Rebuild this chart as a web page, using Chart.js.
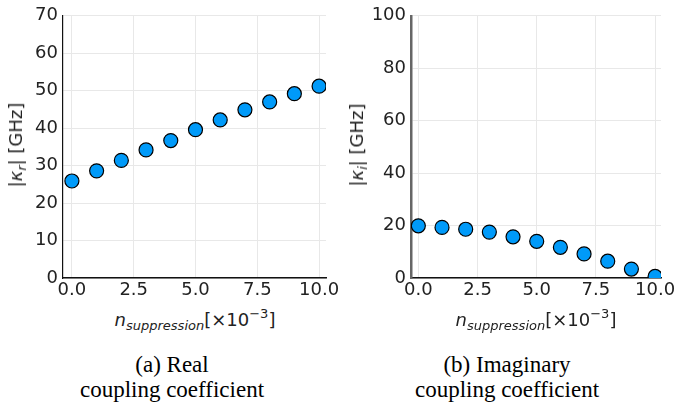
<!DOCTYPE html>
<html>
<head>
<meta charset="utf-8">
<script src="https://cdn.jsdelivr.net/npm/chart.js@4/dist/chart.umd.min.js"></script>
<style>
  html, body { margin:0; padding:0; width:674px; height:409px; overflow:hidden; background:#fff; }
  .wrap { position:absolute; top:0; height:300px; }
  #w1 { left:0; width:345px; }
  #w2 { left:340px; width:360px; }
  .ytitle { position:absolute; font-family:"DejaVu Sans"; font-size:18px; color:#222; white-space:nowrap;
            transform:translate(-50%,-50%) rotate(-90deg); }
  .xtitle { position:absolute; font-family:"DejaVu Sans"; font-size:18px; color:#222; white-space:nowrap;
            transform:translateX(-50%); }
  .xtitle sub { font-size:13px; font-style:italic; vertical-align:-4px; }
  .xtitle sup { font-size:13px; vertical-align:8px; }
  .ytitle sub { font-size:13px; font-style:italic; vertical-align:-4px; }
  .caption { position:absolute; font-family:"Liberation Serif"; font-size:23px; line-height:25px; color:#000;
             text-align:center; white-space:nowrap; transform:translateX(-50%); }
</style>
</head>
<body>
<div class="wrap" id="w1"><canvas id="c1" width="345" height="300"></canvas></div>
<div class="wrap" id="w2"><canvas id="c2" width="360" height="300"></canvas></div>

<div class="ytitle" style="left:17px; top:145px;">|<i>κ</i><sub>r</sub>| [GHz]</div>
<div class="ytitle" style="left:358px; top:145px;">|<i>κ</i><sub>i</sub>| [GHz]</div>
<div class="xtitle" style="left:195px; top:306px;"><i>n</i><sub>suppression</sub>[×10<sup>−3</sup>]</div>
<div class="xtitle" style="left:536px; top:306px;"><i>n</i><sub>suppression</sub>[×10<sup>−3</sup>]</div>
<div class="caption" style="left:172px; top:352px;">(a) Real<br>coupling coefficient</div>
<div class="caption" style="left:507px; top:352px;">(b) Imaginary<br>coupling coefficient</div>

<script>
// ---- data ----
const nSuppression = [0, 1, 2, 3, 4, 5, 6, 7, 8, 9, 10];
const kappaReal = [25.9, 28.6, 31.4, 34.2, 36.7, 39.6, 42.2, 44.9, 47.0, 49.2, 51.2];
const kappaImag = [19.9, 19.3, 18.6, 17.5, 15.7, 14.0, 11.7, 9.2, 6.4, 3.4, 0.6];
const xTickValues = [0, 2.5, 5, 7.5, 10];
const xTickLabels = ['0.0', '2.5', '5.0', '7.5', '10.0'];
const yTicksReal = [0, 10, 20, 30, 40, 50, 60, 70];
const yTicksImag = [0, 20, 40, 60, 80, 100];

function makeChart(id, values, yTicks, opts) {
  const pts = nSuppression.map((x, i) => ({ x: x, y: values[i] }));
  return new Chart(document.getElementById(id), {
    type: 'scatter',
    data: { datasets: [{
      data: pts,
      pointRadius: 7,
      pointHoverRadius: 7,
      backgroundColor: '#009AF9',
      borderColor: '#000000',
      borderWidth: 1.2,
      clip: 0
    }]},
    options: {
      responsive: false,
      animation: false,
      events: [],
      layout: { padding: { top: 11, right: opts.padRight, left: 0, bottom: 0 } },
      plugins: { legend: { display: false }, tooltip: { enabled: false } },
      scales: {
        x: {
          type: 'linear',
          min: opts.xmin, max: opts.xmax,
          afterBuildTicks: s => { s.ticks = xTickValues.map(v => ({ value: v })); },
          afterFit: s => { s.height = 22; },
          ticks: {
            autoSkip: false, maxRotation: 0, padding: 2,
            color: '#222',
            font: { family: 'DejaVu Sans', size: 18 },
            callback: (v) => { const i = xTickValues.indexOf(v); return i >= 0 ? xTickLabels[i] : ''; }
          },
          grid: { color: '#e8e8e8', lineWidth: 1, drawTicks: false },
          border: { display: true, color: '#111', width: 1.5 }
        },
        y: {
          type: 'linear',
          min: yTicks[0], max: yTicks[yTicks.length - 1],
          afterBuildTicks: s => { s.ticks = yTicks.map(v => ({ value: v })); },
          afterFit: s => { s.width = opts.yWidth; },
          ticks: {
            padding: 5,
            color: '#222',
            font: { family: 'DejaVu Sans', size: 18 },
            callback: (v) => String(v)
          },
          grid: { color: '#e8e8e8', lineWidth: 1, drawTicks: false },
          border: { display: true, color: opts.yBorderColor, width: opts.yBorderWidth }
        }
      }
    }
  });
}

makeChart('c1', kappaReal, yTicksReal, { xmin: -0.36, xmax: 10.28, padRight: 19, yWidth: 63, yBorderColor: '#111', yBorderWidth: 1.2 });
makeChart('c2', kappaImag, yTicksImag, { xmin: -0.31, xmax: 10.25, padRight: 39, yWidth: 71, yBorderColor: '#666', yBorderWidth: 2.5 });
</script>
</body>
</html>
